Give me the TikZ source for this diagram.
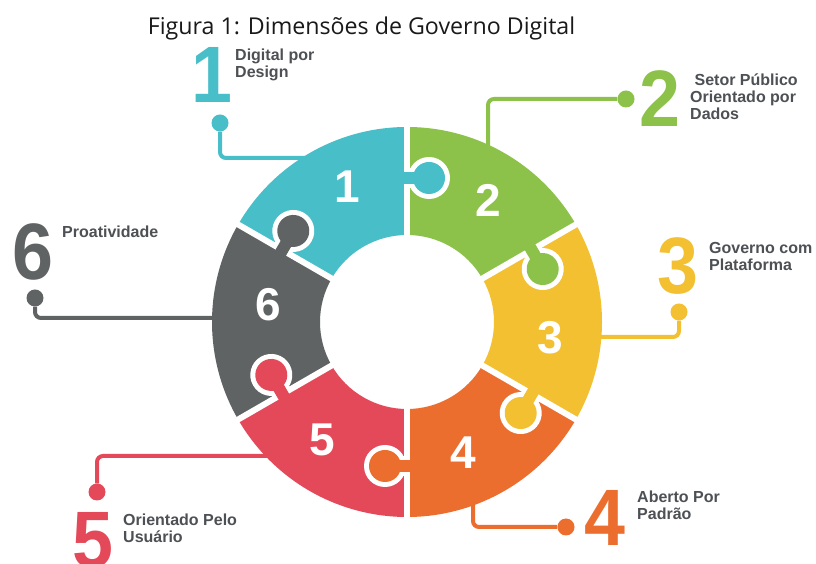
\documentclass[tikz,border=0pt]{standalone}
\usepackage{fontspec}
\setmainfont{Liberation Sans}
\newfontfamily\titlefont{Open Sans}
\usetikzlibrary{calc}
\definecolor{cA}{HTML}{48BEC8}
\definecolor{cB}{HTML}{8DC24A}
\definecolor{cC}{HTML}{F3C032}
\definecolor{cD}{HTML}{EC6E2E}
\definecolor{cE}{HTML}{E4495A}
\definecolor{cF}{HTML}{5F6364}
\definecolor{txt}{HTML}{4D5054}
\begin{document}
\begin{tikzpicture}[x=1pt,y=1pt,
  lead/.style={line width=4pt, rounded corners=6pt},
  dotnode/.style={circle, fill, inner sep=0pt, minimum size=17pt},
  bignum/.style={font=\fontsize{80}{80}\selectfont\bfseries, inner sep=0pt, xscale=0.92},
  ringnum/.style={font=\fontsize{46}{46}\selectfont\bfseries, text=white, inner sep=0pt},
  lbl/.style={font=\fontsize{16}{17}\selectfont\bfseries, text=txt, align=left, anchor=north west, inner sep=0pt}]
\useasboundingbox (0,0) rectangle (816,564);
\fill[white] (0,0) rectangle (816,564);
\coordinate (C) at (407,242);

% title
\node[font=\titlefont\fontsize{23.2}{28}\selectfont, text=black!90, anchor=base, inner sep=0pt] (title) at (361.5,529) {Figura 1: Dimensões de Governo Digital};

% leaders
\coordinate (s1) at (320,406); \node[dotnode, cA] (d1) at (220,441) {};
\draw[lead, cA] (s1) -| (d1);
\coordinate (s2) at (488,404); \node[dotnode, cB] (d2) at (626,465) {};
\draw[lead, cB] (s2) |- (d2);
\coordinate (s3) at (590,227); \node[dotnode, cC] (d3) at (679,252) {};
\draw[lead, cC] (s3) -| (d3);
\coordinate (s4) at (473,75); \node[dotnode, cD] (d4) at (566,37) {};
\draw[lead, cD] (s4) |- (d4);
\coordinate (s5) at (280,108); \node[dotnode, cE] (d5) at (97,72) {};
\draw[lead, cE] (s5) -| (d5);
\coordinate (s6) at (225,246); \node[dotnode, cF] (d6) at (35,266) {};
\draw[lead, cF] (s6) -| (d6);

% ring
\foreach \a/\b/\c in {90/150/cA, 30/90/cB, -30/30/cC, -90/-30/cD, 210/270/cE, 150/210/cF}
  \fill[\c] ($(C)+(\a:87)$) arc[start angle=\a, end angle=\b, radius=87]
     -- ($(C)+(\b:195)$) arc[start angle=\b, end angle=\a, radius=195] -- cycle;
\foreach \a in {30,90,150,210,270,330}
  \draw[white, line width=6pt] ($(C)+(\a:80)$) -- ($(C)+(\a:202)$);
\foreach \a/\c in {90/cA, 30/cB, -30/cC, -90/cD, 210/cE, 150/cF}{
  \begin{scope}[shift={(C)}, rotate=\a]
    \fill[white] (144,-22) circle (21);
    \fill[white] (134,0) rectangle (154,-22);
    \fill[\c] (144,-22) circle (16);
    \fill[\c] (138,4) rectangle (150,-22);
  \end{scope}
}

% ring numbers
\node[ringnum] (r1) at (347,377) {1};
\node[ringnum] (r2) at (488,364) {2};
\node[ringnum] (r3) at (550,226) {3};
\node[ringnum] (r4) at (463,111) {4};
\node[ringnum] (r5) at (322,124) {5};
\node[ringnum] (r6) at (268,259) {6};

% big numbers
\node[bignum, text=cA] (n1) at (212,489) {1};
\node[bignum, text=cB] (n2) at (660,465) {2};
\node[bignum, text=cC] (n3) at (678,298) {3};
\node[bignum, text=cD] (n4) at (605,46) {4};
\node[bignum, text=cE] (n5) at (93,23.5) {5};
\node[bignum, text=cF] (n6) at (33,312) {6};

% labels
\node[lbl] (l1) at (235,517) {\rule{0pt}{13pt}Digital por\\Design};
\node[lbl] (l2) at (690,492) {\rule{0pt}{13pt}\ Setor Público\\Orientado por\\Dados};
\node[lbl] (l3) at (709,324) {\rule{0pt}{13pt}Governo com\\Plataforma};
\node[lbl] (l4) at (637,75) {\rule{0pt}{13pt}Aberto Por\\Padrão};
\node[lbl] (l5) at (123,52) {\rule{0pt}{13pt}Orientado Pelo\\Usuário};
\node[lbl] (l6) at (62,340) {\rule{0pt}{13pt}Proatividade};
\end{tikzpicture}
\end{document}
